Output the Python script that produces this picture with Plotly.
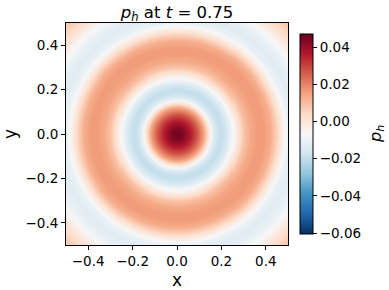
import numpy as np
import plotly.graph_objects as go

# Radial profile of p_h (radius, value)
radius = [0.00, 0.03, 0.06, 0.09, 0.12, 0.14, 0.16, 0.18, 0.20, 0.22, 0.24, 0.26,
          0.28, 0.30, 0.33, 0.36, 0.39, 0.42, 0.45, 0.47, 0.50, 0.53, 0.56, 0.60,
          0.64, 0.68, 0.71]
p_values = [0.046, 0.043, 0.036, 0.027, 0.015, 0.002, -0.011, -0.018, -0.020, -0.017,
            -0.011, -0.004, 0.003, 0.009, 0.014, 0.016, 0.016, 0.013, 0.005, -0.002,
            -0.010, -0.013, -0.012, -0.007, 0.000, 0.006, 0.008]
axis_ticks = [-0.4, -0.2, 0.0, 0.2, 0.4]
cbar_ticks = [0.04, 0.02, 0.00, -0.02, -0.04, -0.06]
z_min, z_max = -0.0605, 0.047

n = 221
xs = np.linspace(-0.5, 0.5, n)
ys = np.linspace(-0.5, 0.5, n)
X, Y = np.meshgrid(xs, ys)
R = np.sqrt(X**2 + Y**2)
Z = np.interp(R, radius, p_values)

fig = go.Figure(go.Heatmap(
    x=xs, y=ys, z=Z, colorscale="RdBu", reversescale=True,
    zmin=z_min, zmax=z_max, zsmooth="best", hoverinfo="skip",
    colorbar=dict(
        x=(300 - 66) / 222, xanchor="left", xpad=0, ypad=0,
        y=(245 - 134) / 222, yanchor="middle",
        thickness=13, len=200, lenmode="pixels",
        outlinecolor="black", outlinewidth=1,
        tickvals=cbar_ticks, tickformat=".2f", ticks="outside", ticklen=4,
        tickcolor="black",
        tickfont=dict(family="DejaVu Sans", size=13.5, color="black"),
    ),
))

axis_common = dict(
    tickvals=axis_ticks, tickformat=".1f", ticks="outside", ticklen=4,
    tickcolor="black", showline=True, linecolor="black", linewidth=1, mirror=True,
    showgrid=False, zeroline=False,
    tickfont=dict(family="DejaVu Sans", size=13.5, color="black"),
)
fig.update_xaxes(range=[-0.5, 0.5], title=dict(text="x", standoff=11,
                 font=dict(family="DejaVu Sans", size=17, color="black")), **axis_common)
fig.update_yaxes(range=[-0.5, 0.5], title=dict(text="y", standoff=10,
                 font=dict(family="DejaVu Sans", size=17, color="black")), **axis_common)

fig.add_annotation(text="<i>p<sub>h</sub></i>", xref="paper", yref="paper",
                   x=(376 - 66) / 222, y=(245 - 134) / 222, textangle=-90,
                   showarrow=False, xanchor="center", yanchor="middle",
                   font=dict(family="DejaVu Sans", size=16, color="black"))

fig.update_layout(
    width=389, height=290,
    margin=dict(l=66, r=101, t=23, b=45, autoexpand=False),
    paper_bgcolor="white", plot_bgcolor="white",
    title=dict(text="<i>p<sub>h</sub></i> at <i>t</i> = 0.75", x=(66 + 111) / 389,
               xanchor="center", y=1 - 12 / 290, yanchor="middle",
               font=dict(family="DejaVu Sans", size=16.5, color="black")),
)

fig.write_html("out.html", config={"displayModeBar": False},
               post_script="document.body.style.margin='0';")
